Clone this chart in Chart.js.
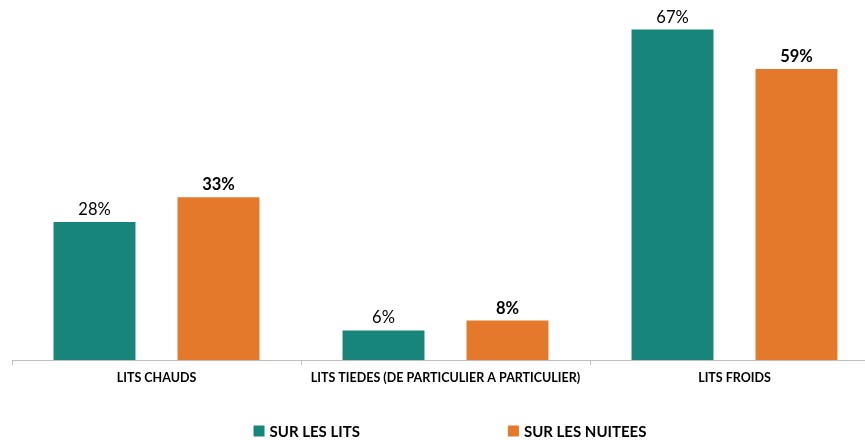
<!DOCTYPE html>
<html lang="fr">
<head>
  <meta charset="UTF-8">
  <title>Lits et nuitées</title>
  <script src="https://cdn.jsdelivr.net/npm/chart.js"></script>
  <style>
    html, body { margin: 0; padding: 0; background: #fff; overflow: hidden; }
    #wrap { width: 880px; height: 440px; }
  </style>
</head>
<body>
  <div id="wrap"><canvas id="chart"></canvas></div>
  <script>
    const categories = ['LITS CHAUDS', 'LITS TIEDES (DE PARTICULIER A PARTICULIER)', 'LITS FROIDS'];
    const surLesLits = [28, 6, 67];
    const surLesNuitees = [33, 8, 59];
    const seriesNames = ['SUR LES LITS', 'SUR LES NUITEES'];

    const TEAL = '#17857a';
    const ORANGE = '#e4792c';
    const FONT = 'Lato, "Open Sans", sans-serif';

    // value labels above each bar
    const barLabels = {
      id: 'barLabels',
      afterDatasetsDraw(chart) {
        const ctx = chart.ctx;
        ctx.save();
        ctx.textAlign = 'center';
        ctx.textBaseline = 'bottom';
        ctx.fillStyle = '#000';
        chart.data.datasets.forEach((ds, i) => {
          ctx.font = (i === 1 ? 'bold ' : '') + '16.5px ' + FONT;
          chart.getDatasetMeta(i).data.forEach((bar, j) => {
            ctx.fillText(ds.data[j] + '%', bar.x, bar.y - 4);
          });
        });
        ctx.restore();
      }
    };

    // legend drawn at the bottom, wide gap between items
    const bottomLegend = {
      id: 'bottomLegend',
      afterDraw(chart) {
        const ctx = chart.ctx;
        ctx.save();
        ctx.font = 'bold 15px ' + FONT;
        ctx.textBaseline = 'middle';
        const box = 11, gap = 148, centre = 450, y = 431;
        const items = chart.data.datasets.map(ds => ({
          label: ds.label, color: ds.backgroundColor, w: box + 5 + ctx.measureText(ds.label).width
        }));
        const total = items.reduce((s, it) => s + it.w, 0) + gap * (items.length - 1);
        let x = centre - total / 2;
        items.forEach(it => {
          ctx.fillStyle = it.color;
          ctx.fillRect(x, y - box / 2, box, box);
          ctx.fillStyle = '#000';
          ctx.fillText(it.label, x + box + 5, y + 1);
          x += it.w + gap;
        });
        ctx.restore();
      }
    };

    new Chart(document.getElementById('chart'), {
      type: 'bar',
      data: {
        labels: categories,
        datasets: [
          { label: seriesNames[0], data: surLesLits, backgroundColor: TEAL },
          { label: seriesNames[1], data: surLesNuitees, backgroundColor: ORANGE }
        ]
      },
      options: {
        responsive: true,
        maintainAspectRatio: false,
        animation: false,
        datasets: {
          bar: { categoryPercentage: 0.858, barPercentage: 0.661 }
        },
        layout: { padding: { left: 12, right: 1, top: 0, bottom: 50 } },
        plugins: {
          legend: { display: false },
          tooltip: { enabled: false }
        },
        scales: {
          x: {
            grid: { drawOnChartArea: false, drawTicks: true, tickLength: 5, color: '#bfbfbf', offset: true },
            border: { color: '#bfbfbf' },
            ticks: { color: '#000', font: { family: FONT, size: 12.5, weight: 'bold' }, padding: 5, maxRotation: 0 }
          },
          y: { display: false, min: 0, max: 73 }
        }
      },
      plugins: [barLabels, bottomLegend]
    });
  </script>
</body>
</html>
